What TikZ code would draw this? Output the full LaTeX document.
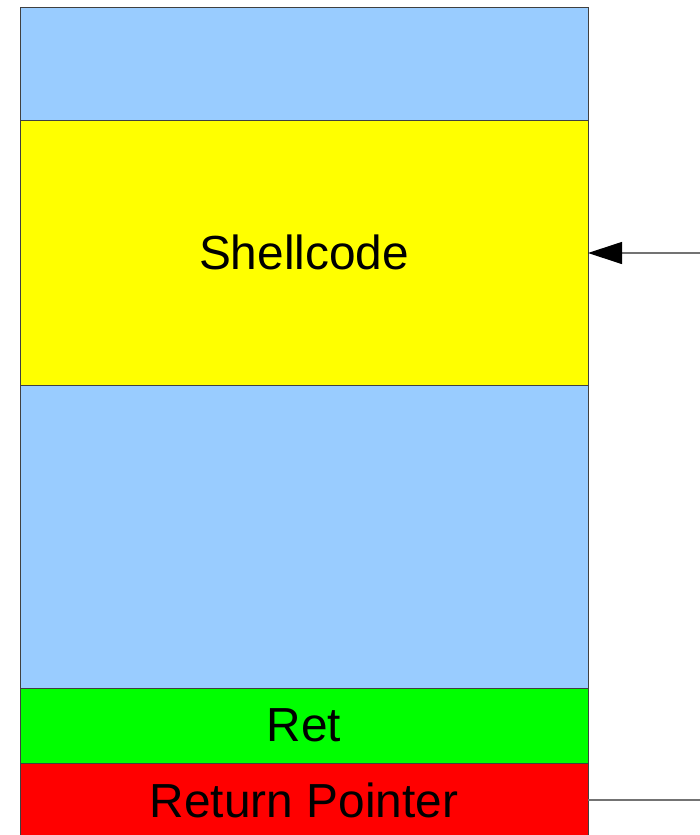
\documentclass[tikz,border=0pt]{standalone}
\usepackage{fontspec}
\setmainfont{Liberation Sans}
\usetikzlibrary{arrows.meta}
\definecolor{stackblue}{HTML}{99CCFF}
\definecolor{shellyellow}{HTML}{FFFF00}
\definecolor{retgreen}{HTML}{00FF00}
\definecolor{ptrred}{HTML}{FF0000}
\begin{document}
\begin{tikzpicture}[x=1pt,y=-1pt,
  frame/.style={draw=black!75, line width=0.9pt, minimum width=568pt,
    anchor=north west, inner sep=0pt, outer sep=0pt,
    font=\fontsize{47.8}{57}\selectfont},
  link/.style={draw=black!55, line width=1.2pt}]
\useasboundingbox (0,0) rectangle (700,835);
% stack regions, top to bottom
\node[frame, fill=stackblue, minimum height=113pt] (top) at (20,7) {};
\node[frame, fill=shellyellow, minimum height=265pt] (shell) at (20,120) {Shellcode};
\node[frame, fill=stackblue, minimum height=303pt] (pad) at (20,385) {};
\node[frame, fill=retgreen, minimum height=75pt] (ret) at (20,688) {Ret};
\node[frame, fill=ptrred, minimum height=74pt] (rp) at (20,763) {Return Pointer};
% pointer back into the shellcode
\coordinate (inend) at (702,253);
\coordinate (outend) at (702,800);
\draw[link, -{Triangle[length=34pt,width=22pt,color=black,fill=black]}] (inend) -- (inend -| shell.east);
\draw[link] (rp.east) -- (outend);
\end{tikzpicture}
\end{document}
